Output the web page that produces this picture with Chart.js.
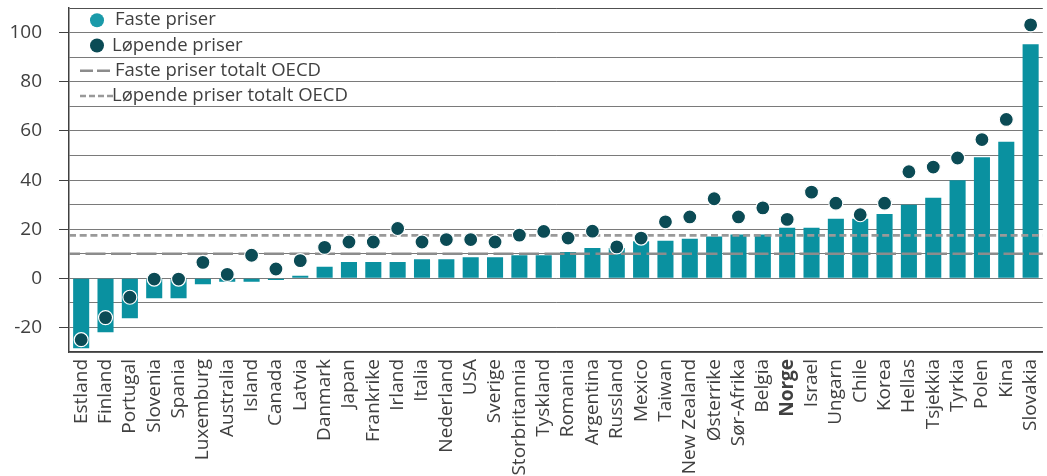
<!DOCTYPE html>
<html lang="no">
<head>
<meta charset="utf-8">
<title>Faste og løpende priser</title>
<script src="https://cdn.jsdelivr.net/npm/chart.js@4.4.1/dist/chart.umd.min.js"></script>
<style>
  html, body { margin: 0; padding: 0; background: #ffffff; }
  #wrap { width: 1047px; height: 476px; overflow: hidden; }
</style>
</head>
<body>
<div id="wrap"><canvas id="chart" width="1051" height="476"></canvas></div>
<script>
  const categories = ['Estland', 'Finland', 'Portugal', 'Slovenia', 'Spania', 'Luxemburg', 'Australia', 'Island',
    'Canada', 'Latvia', 'Danmark', 'Japan', 'Frankrike', 'Irland', 'Italia', 'Nederland', 'USA', 'Sverige',
    'Storbritannia', 'Tyskland', 'Romania', 'Argentina', 'Russland', 'Mexico', 'Taiwan', 'New Zealand',
    'Østerrike', 'Sør-Afrika', 'Belgia', 'Norge', 'Israel', 'Ungarn', 'Chile', 'Korea', 'Hellas', 'Tsjekkia',
    'Tyrkia', 'Polen', 'Kina', 'Slovakia'];

  const fastePriser = [-28.5, -22, -16.3, -8.1, -8.1, -2.4, -1.4, -1.4, -0.7, 1.1, 4.7, 6.7, 6.7, 6.7, 7.8, 7.8,
    8.6, 8.6, 9.4, 9.4, 10.7, 12.3, 12.4, 15.1, 15.3, 16.1, 17, 17.8, 17.8, 20.6, 20.6, 24.3, 24.3, 26.2, 30,
    32.8, 39.9, 49.3, 55.6, 95.3];

  const lopendePriser = [-25, -16, -7.7, -0.3, -0.3, 6.5, 1.6, 9.4, 3.8, 7.2, 12.6, 14.8, 14.8, 20.3, 14.8, 15.8,
    15.8, 14.8, 17.6, 19.1, 16.4, 19.2, 12.8, 16.4, 23, 25, 32.4, 25, 28.7, 24, 35.1, 30.6, 25.9, 30.6, 43.4,
    45.3, 49, 56.5, 64.7, 103.2];

  // OECD totals, drawn as dashed lines across the whole plot
  const oecdLabels = ['Faste priser totalt OECD', 'Løpende priser totalt OECD'];
  const oecdValues = [10, 17.5];
  const oecdDashes = [[20, 5.5], [7, 3.7]];
  const oecdColors = ['#8c8c8c', '#999999'];

  const yMin = -30;
  const yMax = 110;
  const yLabelStep = 20;
  const boldCategory = 'Norge';

  const barColor = '#0a91a0';
  const dotColor = '#0b4b55';
  const textColor = '#404040';
  const fontFamily = '"Open Sans", "DejaVu Sans", sans-serif';

  // dashed OECD lines: after the bars, before the dots
  const oecdLines = {
    id: 'oecdLines',
    afterDatasetDraw(chart, args) {
      if (args.index !== 0) return;
      const ctx = chart.ctx;
      const a = chart.chartArea;
      const y = chart.scales.y;
      ctx.save();
      ctx.lineWidth = 2.7;
      oecdValues.forEach((v, i) => {
        const py = y.getPixelForValue(v);
        ctx.beginPath();
        ctx.strokeStyle = oecdColors[i];
        ctx.setLineDash(oecdDashes[i]);
        ctx.lineDashOffset = i === 0 ? 9 : 0;
        ctx.moveTo(a.left, py);
        ctx.lineTo(a.right, py);
        ctx.stroke();
      });
      ctx.restore();
    }
  };

  // legend sits inside the plot, top left
  const insideLegend = {
    id: 'insideLegend',
    afterDraw(chart) {
      const ctx = chart.ctx;
      const a = chart.chartArea;
      const ds = chart.data.datasets;
      const rows = [
        { kind: 'dot', color: '#1a9aa9', text: ds[0].label },
        { kind: 'dot', color: dotColor, text: ds[1].label },
        { kind: 'dash', dash: [13, 4], color: oecdColors[0], text: oecdLabels[0] },
        { kind: 'dash', dash: [6, 3], color: oecdColors[1], text: oecdLabels[1] }
      ];
      ctx.save();
      ctx.font = '18.5px ' + fontFamily;
      ctx.textBaseline = 'middle';
      rows.forEach((r, i) => {
        const y = a.top + 12 + i * 25.3;
        if (r.kind === 'dot') {
          ctx.beginPath();
          ctx.arc(a.left + 28, y, 7, 0, Math.PI * 2);
          ctx.fillStyle = r.color;
          ctx.fill();
        } else {
          ctx.beginPath();
          ctx.setLineDash(r.dash);
          ctx.lineWidth = 2.5;
          ctx.strokeStyle = r.color;
          ctx.moveTo(a.left + 11, y);
          ctx.lineTo(a.left + 44, y);
          ctx.stroke();
          ctx.setLineDash([]);
        }
        ctx.fillStyle = textColor;
        ctx.fillText(r.text, a.left + (i % 2 === 0 ? 46 : 43), y);
      });
      ctx.restore();
    }
  };

  const ctx = document.getElementById('chart').getContext('2d');
  new Chart(ctx, {
    type: 'bar',
    data: {
      labels: categories,
      datasets: [{
        type: 'bar',
        label: 'Faste priser',
        data: fastePriser,
        backgroundColor: barColor,
        grouped: false,
        barPercentage: 0.66,
        categoryPercentage: 1,
        order: 1
      }, {
        type: 'line',
        label: 'Løpende priser',
        data: lopendePriser,
        showLine: false,
        pointRadius: 7,
        pointHoverRadius: 7,
        pointBackgroundColor: dotColor,
        pointBorderColor: '#ffffff',
        pointBorderWidth: 1.2,
        order: 0
      }]
    },
    options: {
      responsive: false,
      animation: false,
      devicePixelRatio: 1,
      layout: { padding: { top: 7, right: 0, left: 0, bottom: 0 } },
      plugins: {
        legend: { display: false },
        tooltip: { enabled: false }
      },
      scales: {
        x: {
          grid: { display: false, drawTicks: false },
          border: { display: true, color: textColor, width: 1.5 },
          ticks: {
            autoSkip: false,
            maxRotation: 90,
            minRotation: 90,
            padding: 7,
            color: textColor,
            font: (c) => ({
              family: fontFamily,
              size: 19,
              weight: categories[c.index] === boldCategory ? 'bold' : 'normal'
            })
          },
          afterFit: (scale) => {
            scale.height = 124;
            scale.paddingLeft = 0;
            scale.paddingRight = 0;
          }
        },
        y: {
          min: yMin,
          max: yMax,
          border: { display: true, color: textColor, width: 1.5 },
          grid: {
            color: (c) => (c.tick && c.tick.value === yMax ? '#505050' : '#7a7a7a'),
            lineWidth: 1,
            tickLength: 10,
            tickColor: (c) => (c.tick && c.tick.value % yLabelStep === 0 ? textColor : 'rgba(0,0,0,0)')
          },
          ticks: {
            stepSize: 10,
            autoSkip: false,
            padding: 17,
            color: textColor,
            font: { family: fontFamily, size: 19 },
            callback: (v) => (v % yLabelStep === 0 ? v : '')
          },
          afterFit: (scale) => {
            scale.width = 69;
            scale.paddingTop = 0;
            scale.paddingBottom = 0;
          }
        }
      }
    },
    plugins: [oecdLines, insideLegend]
  });
</script>
</body>
</html>
